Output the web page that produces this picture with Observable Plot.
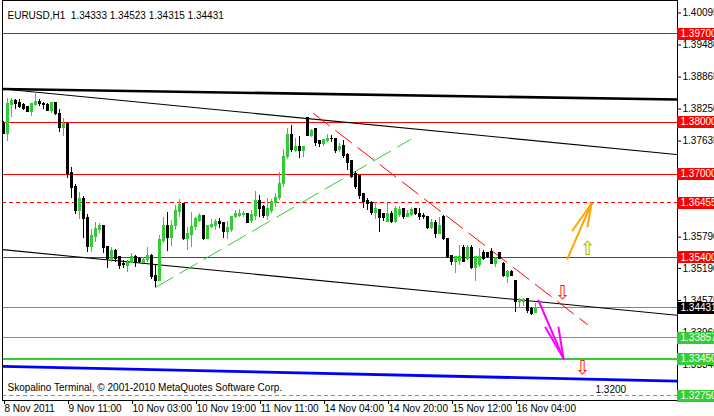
<!DOCTYPE html>
<html><head><meta charset="utf-8">
<script src="https://cdn.jsdelivr.net/npm/d3@7"></script>
<script src="https://cdn.jsdelivr.net/npm/@observablehq/plot@0.6"></script>
<style>
html,body{margin:0;padding:0;background:#fff;}
#chart svg{display:block;}
</style>
</head><body><div id="chart"></div>
<script>
// ---------- DATA ----------
const chartTitle = "EURUSD,H1\u00a0 1.34333 1.34523 1.34315 1.34431";
const copyrightText = "Skopalino Terminal, \u00a9 2001-2010 MetaQuotes Software Corp.";

// H1 bars, index 0 = 8 Nov 2011 19:00
const opens = [1.3797,1.3778,1.3832,1.3841,1.3836,1.3832,1.3828,1.3820,1.3832,1.3838,1.3834,1.3832,1.3822,1.3836,1.3816,1.3788,1.3797,1.3703,1.3676,1.3630,
1.3653,1.3615,1.3561,1.3580,1.3592,1.3601,1.3561,1.3536,1.3552,1.3540,1.3527,1.3523,1.3530,1.3540,1.3538,1.3530,1.3536,1.3542,1.3504,1.3494,
1.3571,1.3600,1.3578,1.3600,1.3628,1.3642,1.3576,1.3584,1.3598,1.3611,1.3619,1.3576,1.3598,1.3601,1.3609,1.3607,1.3588,1.3592,1.3617,1.3619,
1.3621,1.3623,1.3611,1.3619,1.3649,1.3636,1.3619,1.3630,1.3644,1.3655,1.3682,1.3732,1.3776,1.3745,1.3753,1.3745,1.3807,1.3774,1.3786,1.3763,
1.3757,1.3763,1.3768,1.3768,1.3747,1.3755,1.3736,1.3726,1.3701,1.3696,1.3661,1.3648,1.3644,1.3626,1.3632,1.3623,1.3609,1.3623,1.3609,1.3621,
1.3634,1.3617,1.3621,1.3634,1.3623,1.3619,1.3617,1.3596,1.3607,1.3586,1.3617,1.3575,1.3542,1.3532,1.3534,1.3559,1.3538,1.3559,1.3519,1.3525,
1.3548,1.3548,1.3550,1.3527,1.3548,1.3527,1.3502,1.3513,1.3494,1.3454,1.3454,1.3461,1.3442,1.34333];
const highs = [1.3801,1.3845,1.3845,1.3843,1.3843,1.3836,1.3830,1.3836,1.3857,1.3843,1.3838,1.3836,1.3838,1.3838,1.3824,1.3807,1.3797,1.3713,1.3680,1.3665,
1.3657,1.3623,1.3594,1.3607,1.3605,1.3601,1.3561,1.3559,1.3555,1.3542,1.3534,1.3534,1.3548,1.3544,1.3540,1.3540,1.3559,1.3546,1.3527,1.3582,
1.3617,1.3626,1.3611,1.3640,1.3651,1.3644,1.3598,1.3626,1.3617,1.3624,1.3621,1.3601,1.3613,1.3613,1.3615,1.3607,1.3609,1.3619,1.3630,1.3632,
1.3628,1.3624,1.3630,1.3667,1.3659,1.3640,1.3653,1.3651,1.3663,1.3703,1.3747,1.3788,1.3793,1.3768,1.3772,1.3753,1.3809,1.3786,1.3788,1.3765,
1.3767,1.3776,1.3774,1.3768,1.3759,1.3765,1.3740,1.3726,1.3705,1.3697,1.3663,1.3653,1.3648,1.3646,1.3632,1.3624,1.3644,1.3628,1.3638,1.3638,
1.3634,1.3630,1.3636,1.3634,1.3634,1.3624,1.3617,1.3613,1.3611,1.3617,1.3621,1.3575,1.3542,1.3540,1.3563,1.3563,1.3563,1.3563,1.3540,1.3557,
1.3553,1.3550,1.3557,1.3540,1.3550,1.3530,1.3515,1.3515,1.3494,1.3461,1.3461,1.3461,1.3444,1.34523];
const lows = [1.3776,1.3763,1.3809,1.3824,1.3826,1.3822,1.3818,1.3811,1.3830,1.3830,1.3824,1.3820,1.3816,1.3813,1.3780,1.3772,1.3692,1.3653,1.3623,1.3613,
1.3576,1.3550,1.3550,1.3569,1.3586,1.3548,1.3519,1.3530,1.3530,1.3517,1.3519,1.3511,1.3528,1.3521,1.3528,1.3528,1.3530,1.3498,1.3482,1.3494,
1.3567,1.3552,1.3561,1.3592,1.3617,1.3573,1.3553,1.3559,1.3592,1.3607,1.3573,1.3576,1.3596,1.3592,1.3596,1.3576,1.3575,1.3588,1.3615,1.3617,
1.3617,1.3605,1.3605,1.3611,1.3617,1.3615,1.3611,1.3624,1.3636,1.3649,1.3674,1.3728,1.3742,1.3742,1.3730,1.3732,1.3772,1.3770,1.3753,1.3751,
1.3753,1.3761,1.3761,1.3740,1.3742,1.3730,1.3707,1.3692,1.3671,1.3651,1.3634,1.3630,1.3621,1.3613,1.3588,1.3609,1.3607,1.3605,1.3605,1.3617,
1.3613,1.3617,1.3619,1.3621,1.3611,1.3613,1.3594,1.3594,1.3576,1.3584,1.3573,1.3538,1.3525,1.3509,1.3525,1.3530,1.3534,1.3517,1.3494,1.3521,
1.3534,1.3538,1.3528,1.3521,1.3536,1.3502,1.3490,1.3504,1.3434,1.3442,1.3446,1.3432,1.3429,1.34315];
const closes = [1.3778,1.3834,1.3841,1.3834,1.3828,1.3826,1.3820,1.3834,1.3838,1.3834,1.3832,1.3822,1.3836,1.3815,1.3788,1.3797,1.3701,1.3674,1.3630,1.3653,
1.3613,1.3561,1.3582,1.3594,1.3601,1.3559,1.3538,1.3552,1.3538,1.3523,1.3525,1.3530,1.3540,1.3530,1.3532,1.3536,1.3542,1.3502,1.3494,1.3573,
1.3600,1.3578,1.3601,1.3630,1.3640,1.3576,1.3586,1.3598,1.3613,1.3619,1.3576,1.3601,1.3603,1.3609,1.3605,1.3588,1.3596,1.3617,1.3623,1.3623,
1.3624,1.3607,1.3621,1.3649,1.3634,1.3619,1.3634,1.3646,1.3655,1.3682,1.3732,1.3776,1.3747,1.3753,1.3745,1.3753,1.3774,1.3782,1.3759,1.3757,
1.3765,1.3768,1.3767,1.3745,1.3753,1.3734,1.3722,1.3694,1.3676,1.3659,1.3646,1.3642,1.3626,1.3634,1.3615,1.3615,1.3623,1.3609,1.3634,1.3632,
1.3617,1.3624,1.3632,1.3624,1.3617,1.3617,1.3596,1.3607,1.3586,1.3601,1.3575,1.3540,1.3532,1.3540,1.3540,1.3532,1.3559,1.3519,1.3540,1.3540,
1.3538,1.3540,1.3528,1.3538,1.3538,1.3504,1.3513,1.3505,1.3454,1.3459,1.3459,1.3438,1.3431,1.34431];

// time axis: bar index of each label and its text
const timeTickBars = [0,16,32,48,64,80,96,112,128];
const timeTickLabels = ["8 Nov 2011","9 Nov 11:00","10 Nov 03:00","10 Nov 19:00","11 Nov 11:00","14 Nov 04:00","14 Nov 20:00","15 Nov 12:00","16 Nov 04:00"];

// price axis ticks
const priceTicks = [1.40095,1.39480,1.38865,1.38250,1.37635,1.37020,1.36405,1.35790,1.35190,1.34575,1.33960,1.33345];

// horizontal levels
const resistanceLevels = [1.3970,1.3800,1.3700,1.3540];
const targetUpLevel = [1.36455];
const bidLevel = [1.34431];
const supportLevels = [1.33857];
const mainSupportLevel = [1.3345];
const targetDownLevel = [1.3275];

// trend lines: [bar index, price]
const thickTrendLine = [[-0.25,1.38636],[168.5,1.38432]];
const channelUpper = [[0,1.38635],[168.25,1.37377]];
const channelLower = [[-0.25,1.35550],[168.5,1.34290]];
const blueLine = [[-0.25,1.33310],[168.5,1.33025]];
const greenTrendLine = [[38,1.34824],[101.75,1.37665]];
const redTrendLine = [[77.5,1.38164],[146,1.34113]];

// drawn arrows [bar index, price]
const orangeArrow = [[[141,1.35380],[147,1.36436]],[[142.25,1.35918],[147,1.36436]],[[146,1.35995],[147,1.36436]]];
const magentaArrow = [[[133.75,1.34574],[140,1.33460]],[[135.5,1.34056],[140,1.33460]],[[138.75,1.34056],[140,1.33460]]];
const upSymbols = [[146,1.35572]];
const downSymbols = [[139.75,1.34728],[144.75,1.33288]];
const targetText = "1.3200";
const targetTextPos = [[148,1.32865]];

// ---------- CHART ----------
const GREEN = "#32cd32";
const bars = opens.map((o, i) => ({i, open: o, high: highs[i], low: lows[i], close: closes[i]}));
const upBars = bars.filter(d => d.close > d.open);
const downBars = bars.filter(d => !(d.close > d.open));
const fmt = d => d.toFixed(5);
const xEdge = 168.5;

const boxes = [
  ...resistanceLevels.map(p => ({p, c: "#ff0000"})),
  ...targetUpLevel.map(p => ({p, c: "#ff0000"})),
  ...bidLevel.map(p => ({p, c: "#000000"})),
  ...supportLevels.map(p => ({p, c: GREEN})),
  ...mainSupportLevel.map(p => ({p, c: GREEN})),
  ...targetDownLevel.map(p => ({p, c: GREEN}))
];

const font = "'Liberation Sans', Arial, sans-serif";

const chart = Plot.plot({
  width: 714, height: 416,
  marginLeft: 2, marginRight: 37, marginTop: 0, marginBottom: 16,
  x: {type: "linear", domain: [-0.25, xEdge], axis: null, label: null},
  y: {type: "linear", domain: [1.32654, 1.40334], axis: null, label: null},
  style: {fontFamily: font, fontSize: "10px", background: "#fff", color: "#000", overflow: "hidden"},
  marks: [
    // horizontal levels
    Plot.ruleY(resistanceLevels, {stroke: "#ff0000", shapeRendering: "crispEdges"}),
    Plot.ruleY(targetUpLevel, {stroke: "#ff0000", strokeDasharray: "4,3", shapeRendering: "crispEdges"}),
    Plot.ruleY(bidLevel, {stroke: "#778899", shapeRendering: "crispEdges"}),
    Plot.ruleY(supportLevels, {stroke: GREEN, shapeRendering: "crispEdges"}),
    Plot.ruleY(mainSupportLevel, {stroke: GREEN, strokeWidth: 2, shapeRendering: "crispEdges"}),
    Plot.ruleY(targetDownLevel, {stroke: GREEN, strokeDasharray: "4,3", shapeRendering: "crispEdges"}),
    // trend lines
    Plot.line(thickTrendLine, {stroke: "#000", strokeWidth: 2.6, clip: true}),
    Plot.line(channelUpper, {stroke: "#000", strokeWidth: 1.1, clip: true}),
    Plot.line(channelLower, {stroke: "#000", strokeWidth: 1.1, clip: true}),
    Plot.line(blueLine, {stroke: "#0000ff", strokeWidth: 2.8, clip: true}),
    Plot.line(greenTrendLine, {stroke: GREEN, strokeWidth: 1, strokeDasharray: "20,8"}),
    Plot.line(redTrendLine, {stroke: "#ff0000", strokeWidth: 1, strokeDasharray: "20,8"}),
    // candles
    Plot.ruleX(upBars, {x: "i", y1: "low", y2: "high", stroke: GREEN, shapeRendering: "crispEdges"}),
    Plot.ruleX(downBars, {x: "i", y1: "low", y2: "high", stroke: "#000", shapeRendering: "crispEdges"}),
    Plot.rect(upBars, {x1: d => d.i - 0.375, x2: d => d.i + 0.375, y1: "open", y2: "close", fill: GREEN, insetTop: -0.5, insetBottom: -0.5, shapeRendering: "crispEdges"}),
    Plot.rect(downBars, {x1: d => d.i - 0.375, x2: d => d.i + 0.375, y1: "open", y2: "close", fill: "#000", insetTop: -0.5, insetBottom: -0.5, shapeRendering: "crispEdges"}),
    // drawn arrows
    ...orangeArrow.map(seg => Plot.line(seg, {stroke: "#ffa500", strokeWidth: 2})),
    ...magentaArrow.map(seg => Plot.line(seg, {stroke: "#ff00ff", strokeWidth: 2})),
    Plot.text(upSymbols, {text: () => "\u21e7", fill: "#b8b800", stroke: "#d8f0a0", strokeWidth: 0.3, fontSize: 19, fontFamily: "DejaVu Sans"}),
    Plot.text(downSymbols, {text: () => "\u21e9", fill: "#ff2000", fontSize: 19, fontFamily: "DejaVu Sans"}),
    Plot.text(targetTextPos, {text: () => targetText, textAnchor: "start", fill: "#000", fontSize: 10}),
    // texts
    Plot.text([chartTitle], {text: d => d, frameAnchor: "top-left", dx: 5, dy: 11, textAnchor: "start", fill: "#000"}),
    Plot.text([copyrightText], {text: d => d, frameAnchor: "bottom-left", dx: 5, dy: -10, textAnchor: "start", fill: "#000"}),
    Plot.frame({stroke: "#000", shapeRendering: "crispEdges"}),
    // axes
    Plot.axisX({ticks: timeTickBars, tickFormat: d => timeTickLabels[timeTickBars.indexOf(d)], anchor: "bottom", label: null, tickSize: 4, tickPadding: 0, textAnchor: "start", dx: 1, fontSize: 10}),
    Plot.axisY({ticks: priceTicks, tickFormat: fmt, anchor: "right", label: null, tickSize: 3, tickPadding: 2, textAnchor: "start", fontSize: 10}),
    // price boxes
    Plot.ruleY(boxes, {y: "p", x1: xEdge + 0.05, x2: xEdge + 12, stroke: "c", strokeWidth: 12, shapeRendering: "crispEdges"}),
    Plot.text(boxes, {y: "p", x: xEdge, text: d => fmt(d.p), textAnchor: "start", dx: 3, fill: "#fff", fontSize: 10})
  ]
});
document.getElementById("chart").appendChild(chart);
</script>
</body></html>
